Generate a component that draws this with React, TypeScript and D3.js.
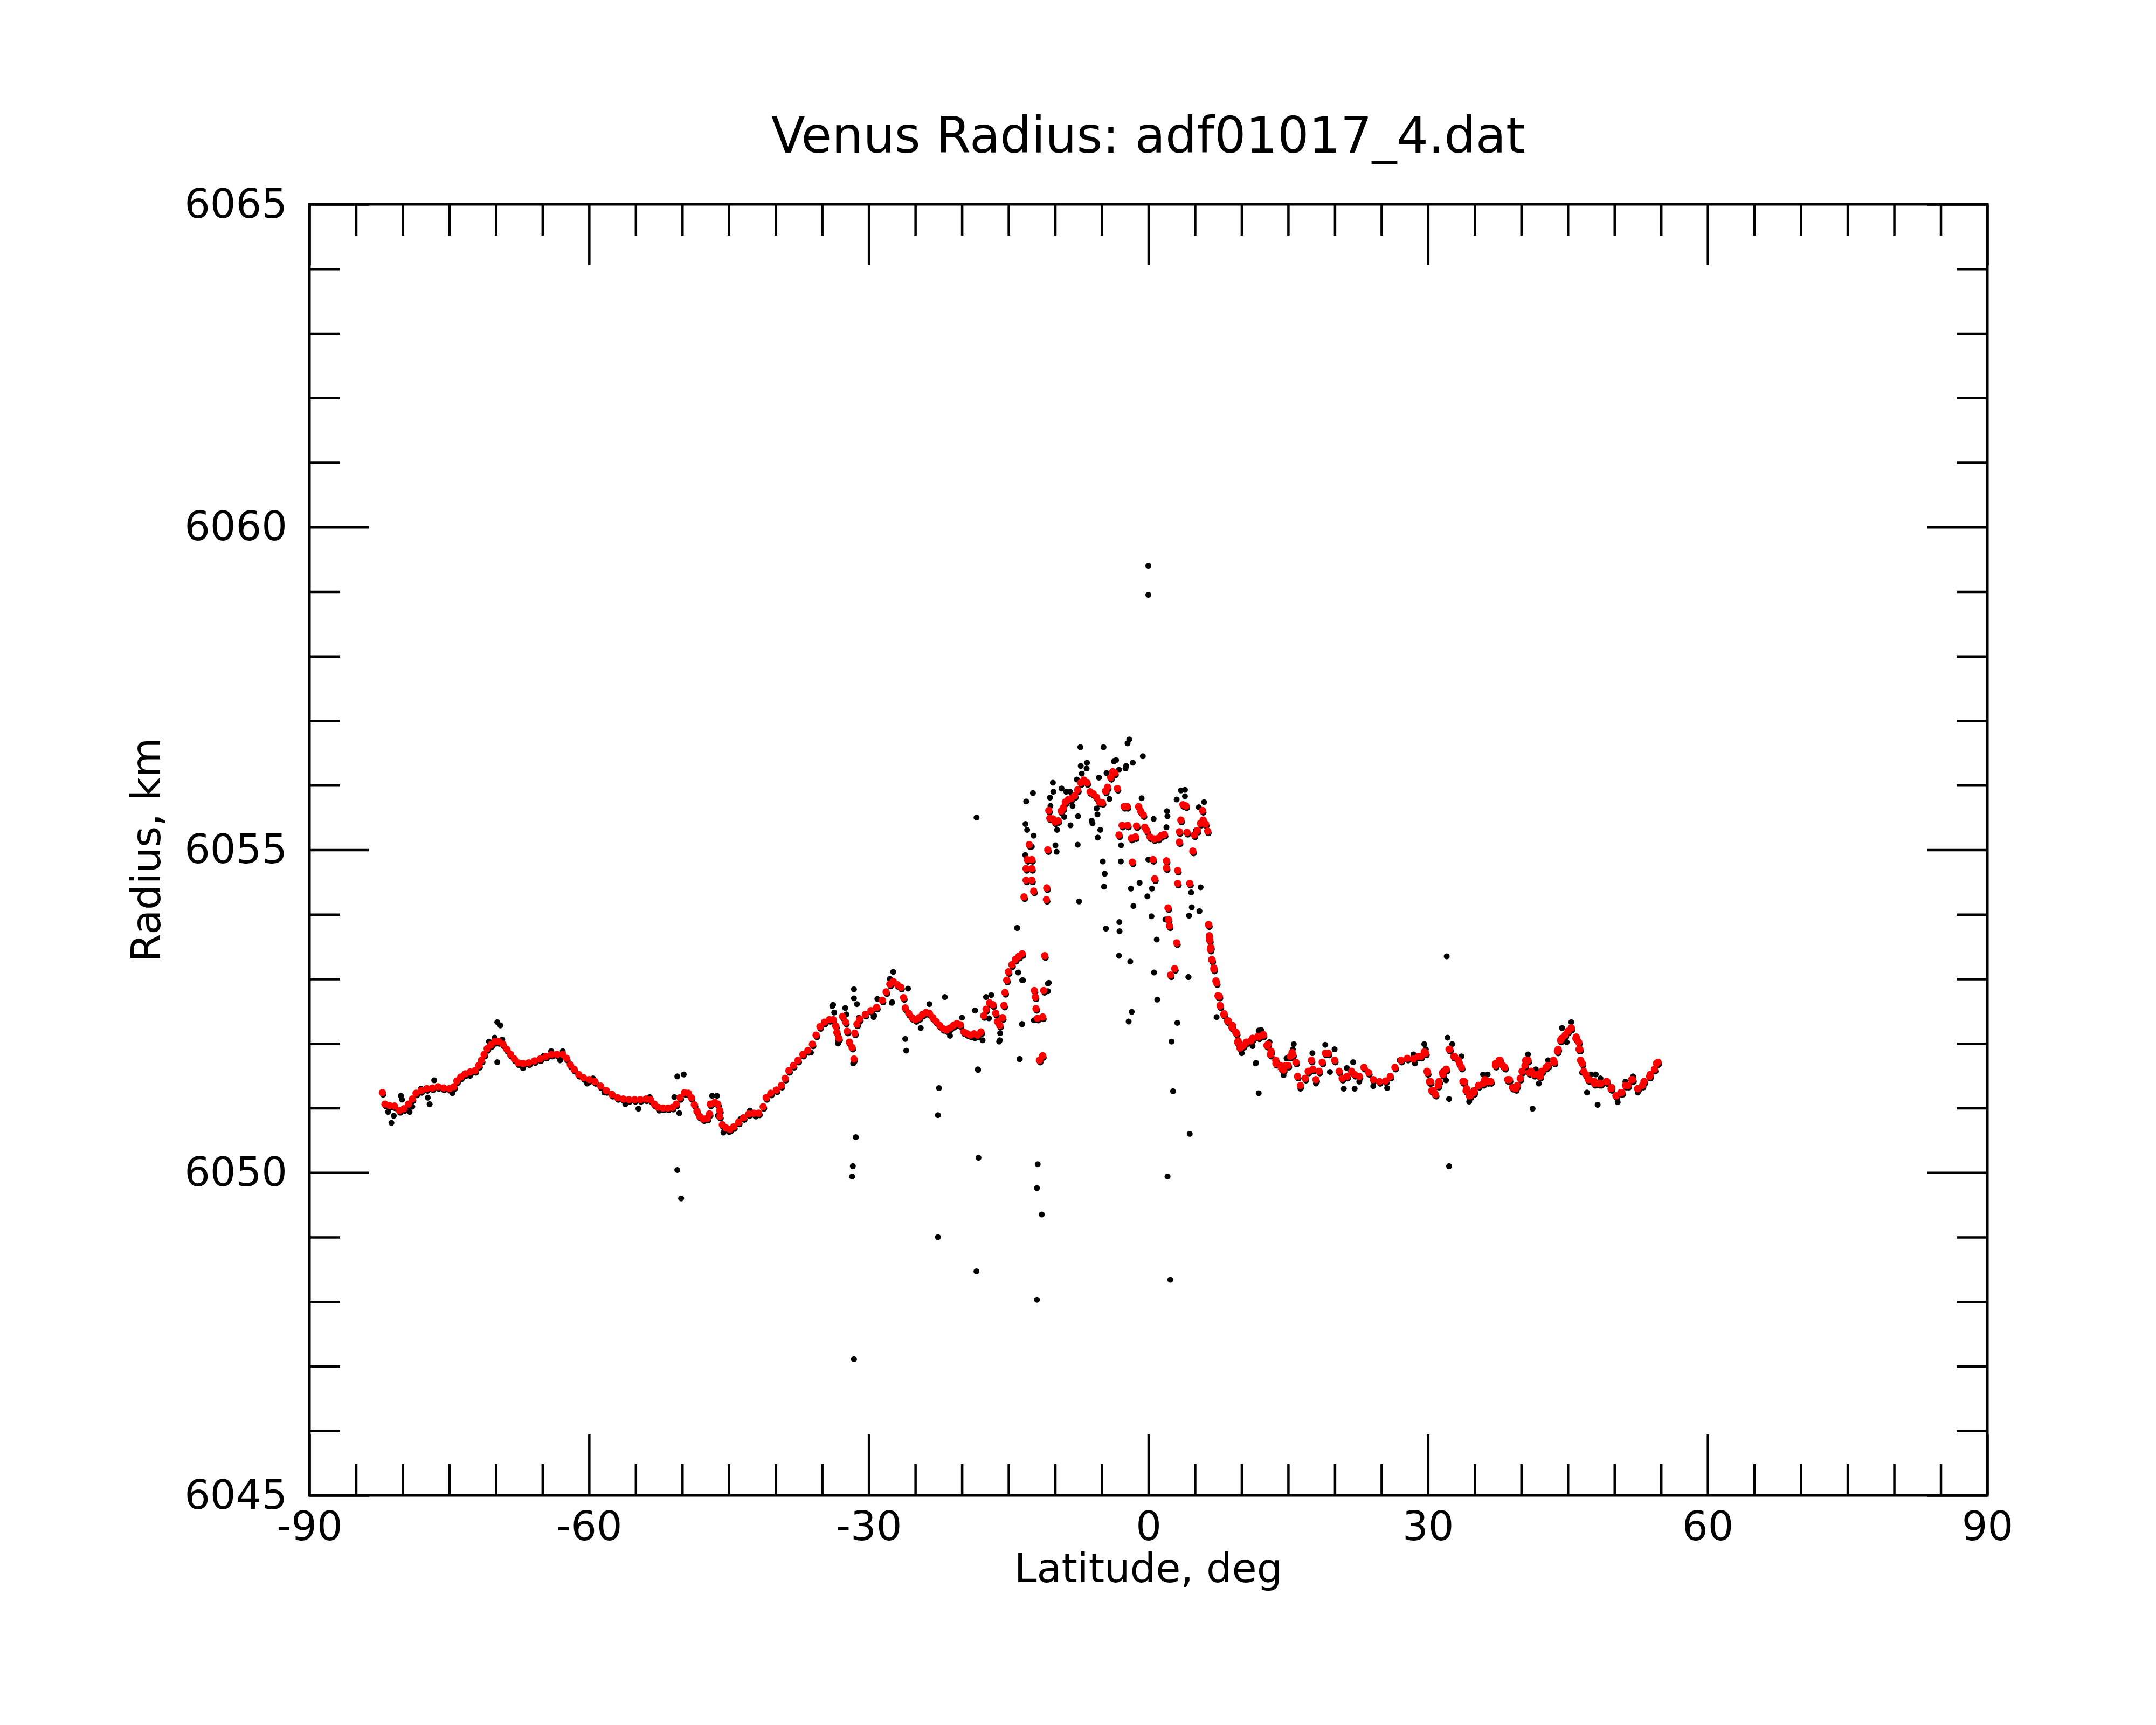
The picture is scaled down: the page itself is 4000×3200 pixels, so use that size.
import React, { useRef, useEffect } from "react";
import * as d3 from "d3";

type Pt = [number, number]; // [latitude deg, radius km]

const title = "Venus Radius: adf01017_4.dat";
const xLabel = "Latitude, deg";
const yLabel = "Radius, km";

const xMajor = [-90, -60, -30, 0, 30, 60, 90];
const yMajor = [6045, 6050, 6055, 6060, 6065];

// filtered (red) radius profile
const fitSouth: Pt[] = [
  [-82.17, 6051.24], [-81.89, 6051.06], [-81.4, 6051.04], [-80.87, 6051.03], [-80.34, 6050.96],
  [-79.86, 6050.99], [-79.37, 6051.06], [-78.96, 6051.14], [-78.56, 6051.23], [-78.03, 6051.27],
  [-77.42, 6051.3], [-76.81, 6051.31], [-76.2, 6051.33], [-75.6, 6051.31], [-74.99, 6051.3],
  [-74.5, 6051.33], [-74.18, 6051.42], [-73.77, 6051.48], [-73.28, 6051.53], [-72.76, 6051.56],
  [-72.23, 6051.58], [-71.82, 6051.66], [-71.54, 6051.74], [-71.26, 6051.83], [-70.93, 6051.92],
  [-70.53, 6051.98], [-70.12, 6052.03], [-69.71, 6052.03], [-69.23, 6051.99], [-68.82, 6051.91],
  [-68.42, 6051.83], [-68.01, 6051.76], [-67.61, 6051.7], [-67.08, 6051.69], [-66.47, 6051.7],
  [-65.86, 6051.73], [-65.25, 6051.76], [-64.64, 6051.8], [-64.03, 6051.83], [-63.43, 6051.83],
  [-62.82, 6051.83], [-62.41, 6051.77], [-62.01, 6051.67], [-61.6, 6051.6], [-61.11, 6051.52],
  [-60.59, 6051.47], [-59.98, 6051.44], [-59.37, 6051.41], [-58.76, 6051.34], [-58.15, 6051.27],
  [-57.54, 6051.21], [-56.94, 6051.16], [-56.33, 6051.14], [-55.72, 6051.13], [-55.11, 6051.13],
  [-54.5, 6051.13], [-53.89, 6051.14], [-53.41, 6051.13], [-53.0, 6051.06], [-52.59, 6051.01],
  [-52.07, 6051.0], [-51.54, 6051.0], [-51.05, 6051.01], [-50.65, 6051.06], [-50.24, 6051.16],
  [-49.76, 6051.24], [-49.35, 6051.23], [-49.02, 6051.16], [-48.7, 6051.05], [-48.42, 6050.95],
  [-48.13, 6050.87], [-47.73, 6050.83], [-47.32, 6050.84], [-47.08, 6050.91], [-47.0, 6051.06],
  [-46.51, 6051.09], [-46.19, 6051.06], [-45.98, 6050.96], [-45.98, 6050.87], [-45.7, 6050.74],
  [-45.29, 6050.69], [-44.89, 6050.67], [-44.48, 6050.71], [-43.96, 6050.78], [-43.43, 6050.85],
  [-42.86, 6050.91], [-42.33, 6050.92], [-41.8, 6050.92], [-41.32, 6051.02], [-41.0, 6051.16],
  [-40.51, 6051.23], [-39.9, 6051.28], [-39.37, 6051.35], [-38.96, 6051.46], [-38.56, 6051.58],
  [-38.07, 6051.66], [-37.58, 6051.74], [-37.06, 6051.83], [-36.53, 6051.89], [-36.04, 6051.99],
  [-35.64, 6052.13], [-35.23, 6052.26], [-34.75, 6052.33], [-34.22, 6052.37],
];

const fitMid: Pt[] = [
  [-33.81, 6052.37], [-33.53, 6052.27], [-33.41, 6052.17], [-33.2, 6052.08], [-32.8, 6052.42],
  [-32.47, 6052.33], [-32.31, 6052.19], [-32.07, 6052.02], [-31.78, 6051.94], [-31.58, 6051.76],
  [-31.5, 6052.16], [-31.26, 6052.3], [-30.97, 6052.38], [-30.36, 6052.45], [-29.76, 6052.51],
  [-29.15, 6052.56], [-28.54, 6052.67], [-28.13, 6052.8], [-27.73, 6052.92], [-27.37, 6052.96],
  [-26.92, 6052.91], [-26.55, 6052.87], [-26.26, 6052.71], [-26.08, 6052.55], [-25.71, 6052.47],
  [-25.34, 6052.4], [-24.97, 6052.37], [-24.6, 6052.4], [-24.23, 6052.45], [-23.86, 6052.48],
  [-23.49, 6052.47], [-23.12, 6052.4], [-22.76, 6052.34], [-22.39, 6052.28], [-22.02, 6052.23],
  [-21.65, 6052.21], [-21.28, 6052.24], [-20.91, 6052.28], [-20.54, 6052.31], [-20.17, 6052.29],
  [-19.8, 6052.18], [-19.43, 6052.15], [-19.07, 6052.13], [-18.7, 6052.15], [-18.33, 6052.13],
  [-17.96, 6052.18], [-17.66, 6052.43], [-17.41, 6052.53], [-17.04, 6052.63], [-16.67, 6052.6],
  [-16.38, 6052.47], [-16.19, 6052.34], [-15.93, 6052.28], [-15.64, 6052.4], [-15.49, 6052.59],
  [-15.38, 6052.79], [-15.19, 6052.98], [-15.01, 6053.11], [-14.64, 6053.22], [-14.27, 6053.3],
  [-13.9, 6053.35], [-13.53, 6053.39],
];

const fitCentral: Pt[] = [
  [-13.34, 6054.27], [-13.12, 6054.53], [-13.12, 6054.71], [-13.0, 6054.85], [-12.78, 6055.08],
  [-12.5, 6054.85], [-12.5, 6054.71], [-12.5, 6054.53], [-12.3, 6054.36], [-12.23, 6052.82],
  [-12.12, 6052.72], [-12.05, 6052.54], [-11.9, 6052.39], [-11.68, 6051.74], [-11.34, 6051.81],
  [-11.34, 6052.41], [-11.23, 6052.82], [-11.12, 6053.36], [-10.94, 6054.23], [-10.9, 6054.41],
  [-10.79, 6055.0], [-10.68, 6055.61], [-10.57, 6055.49], [-10.24, 6055.48], [-10.02, 6055.43],
  [-9.68, 6055.45], [-9.35, 6055.6], [-9.13, 6055.65], [-8.91, 6055.74], [-8.58, 6055.78],
  [-8.25, 6055.8], [-7.91, 6055.84], [-7.58, 6055.93], [-7.25, 6056.04], [-6.92, 6056.08],
  [-6.58, 6056.04], [-6.25, 6055.9], [-5.92, 6055.87], [-5.59, 6055.82], [-5.26, 6055.74],
  [-4.93, 6055.73], [-4.59, 6055.91], [-4.37, 6055.97], [-4.04, 6056.12], [-3.82, 6056.21],
  [-3.6, 6056.19], [-3.33, 6055.95], [-3.15, 6055.23], [-2.82, 6055.38], [-2.6, 6055.67],
  [-2.27, 6055.67], [-2.22, 6055.38], [-1.83, 6055.18], [-1.72, 6054.81], [-1.38, 6055.2],
  [-1.27, 6055.37], [-1.05, 6055.67], [-0.83, 6055.6], [-0.54, 6055.54], [-0.39, 6055.35],
  [-0.17, 6055.3], [0.17, 6055.2], [0.5, 6054.85], [0.61, 6055.17], [0.68, 6054.55],
  [1.05, 6055.18], [1.38, 6055.22], [1.72, 6055.24], [1.94, 6054.83], [1.94, 6054.72],
  [2.11, 6054.1], [2.16, 6053.92], [2.27, 6053.82], [2.38, 6053.06], [2.82, 6053.16],
  [3.04, 6053.56], [3.15, 6054.48], [3.15, 6054.68], [3.33, 6055.12], [3.33, 6055.28],
  [3.49, 6055.46], [3.71, 6055.7], [4.04, 6055.68], [4.15, 6055.27], [4.44, 6054.48],
  [4.77, 6054.98], [4.93, 6055.23], [5.26, 6055.3], [5.59, 6055.41], [5.81, 6055.61],
  [5.88, 6055.46], [6.14, 6055.4], [6.36, 6055.29],
  [6.45, 6053.84], [6.47, 6053.84], [6.54, 6053.67], [6.55, 6053.65], [6.58, 6053.6],
  [6.65, 6053.46], [6.7, 6053.49], [6.8, 6053.3], [6.84, 6053.29], [7.03, 6053.17],
  [7.03, 6053.15], [7.25, 6052.97], [7.32, 6052.94], [7.47, 6052.74], [7.61, 6052.73],
  [7.69, 6052.59], [7.71, 6052.58], [8.09, 6052.45], [8.13, 6052.46], [8.48, 6052.35],
  [8.58, 6052.35], [8.96, 6052.25], [9.02, 6052.28], [9.35, 6052.18], [9.46, 6052.16],
  [9.57, 6052.02], [9.63, 6052.04], [9.83, 6051.93], [9.9, 6051.94], [10.21, 6051.97],
];

const fitNorth: Pt[] = [
  [10.51, 6052.02], [10.98, 6052.04], [11.18, 6052.08], [11.76, 6052.11], [11.84, 6052.1],
  [12.33, 6052.14], [12.34, 6052.13], [12.72, 6051.97], [12.84, 6051.99], [13.1, 6051.83],
  [13.17, 6051.88], [13.67, 6051.74], [13.68, 6051.69], [14.17, 6051.66], [14.26, 6051.62],
  [14.5, 6051.59], [14.74, 6051.66], [15.0, 6051.66], [15.22, 6051.8], [15.42, 6051.86],
  [15.5, 6051.83], [15.83, 6051.71], [16.0, 6051.49], [16.32, 6051.35], [16.82, 6051.46],
  [17.15, 6051.57], [17.49, 6051.74], [17.65, 6051.6], [17.98, 6051.44], [18.32, 6051.57],
  [18.65, 6051.71], [18.98, 6051.85], [19.31, 6051.85], [19.98, 6051.74], [20.47, 6051.57],
  [20.8, 6051.46], [21.3, 6051.49], [21.8, 6051.57], [22.13, 6051.52], [22.63, 6051.49],
  [23.13, 6051.63], [23.63, 6051.55], [24.13, 6051.44], [24.79, 6051.41], [25.45, 6051.42],
  [25.95, 6051.49], [26.45, 6051.63], [27.11, 6051.74], [27.78, 6051.77], [28.44, 6051.76],
  [28.94, 6051.8], [29.25, 6051.8], [29.6, 6051.87], [29.76, 6051.85], [29.9, 6051.57],
  [29.94, 6051.55], [30.15, 6051.41], [30.27, 6051.41], [30.4, 6051.27], [30.6, 6051.27],
  [30.8, 6051.21], [31.1, 6051.35], [31.18, 6051.41], [31.57, 6051.55], [31.6, 6051.52],
  [31.93, 6051.6], [31.96, 6051.6], [32.26, 6051.91], [32.34, 6051.91], [32.76, 6051.8],
  [32.86, 6051.8], [33.26, 6051.74], [33.38, 6051.69], [33.59, 6051.63], [33.75, 6051.41],
  [33.89, 6051.41], [34.09, 6051.27], [34.15, 6051.3], [34.42, 6051.19], [34.54, 6051.19],
  [34.92, 6051.24], [34.93, 6051.27], [35.42, 6051.35], [35.44, 6051.35], [35.91, 6051.38],
  [36.09, 6051.44], [36.41, 6051.41], [36.73, 6051.41], [37.24, 6051.66], [37.25, 6051.69],
  [37.64, 6051.74], [37.74, 6051.74], [38.02, 6051.66], [38.24, 6051.63], [38.54, 6051.44],
  [38.73, 6051.44], [39.06, 6051.32], [39.4, 6051.3], [39.57, 6051.35], [39.9, 6051.46],
  [40.09, 6051.57], [40.4, 6051.66], [40.48, 6051.74], [40.73, 6051.74], [40.86, 6051.55],
  [41.06, 6051.57], [41.38, 6051.52], [41.72, 6051.52], [42.03, 6051.49], [42.22, 6051.57],
  [42.67, 6051.63], [42.88, 6051.66], [43.45, 6051.74], [43.55, 6051.71], [43.88, 6051.88],
  [43.96, 6051.91], [44.21, 6052.05], [44.35, 6052.08], [44.71, 6052.13], [45.0, 6052.19],
  [45.37, 6052.24], [45.38, 6052.24], [45.87, 6052.08], [45.9, 6052.1], [46.16, 6052.02],
  [46.2, 6051.91], [46.29, 6051.91], [46.37, 6051.74], [46.55, 6051.69], [46.7, 6051.57],
  [46.93, 6051.52], [47.2, 6051.44], [47.32, 6051.44], [47.84, 6051.41], [47.87, 6051.38],
  [48.35, 6051.38], [48.53, 6051.38], [49.13, 6051.41], [49.19, 6051.41], [49.64, 6051.3],
  [49.69, 6051.32], [50.16, 6051.19], [50.19, 6051.19], [50.68, 6051.24], [50.8, 6051.24],
  [51.18, 6051.35], [51.45, 6051.35], [51.85, 6051.44], [51.97, 6051.44], [52.48, 6051.3],
  [52.51, 6051.3], [53.0, 6051.35], [53.18, 6051.41], [53.77, 6051.49], [53.84, 6051.52],
  [54.29, 6051.6], [54.5, 6051.69], [54.68, 6051.71],
];

// raw (black) measurements that show around or away from the red profile
const rawSouth: Pt[] = [
  [-81.56, 6050.94], [-81.2, 6050.77], [-80.95, 6050.88], [-80.18, 6051.19], [-80.06, 6051.13],
  [-79.25, 6050.94], [-78.96, 6051.02], [-78.03, 6051.3], [-77.3, 6051.16], [-77.1, 6051.06],
  [-76.61, 6051.43], [-75.6, 6051.28], [-74.66, 6051.23], [-73.37, 6051.53], [-72.76, 6051.5],
  [-72.35, 6051.56], [-70.73, 6052.03], [-70.12, 6052.09], [-69.84, 6052.33], [-69.51, 6052.28],
  [-69.84, 6051.71], [-69.31, 6052.06], [-67.08, 6051.62], [-64.85, 6051.81], [-64.04, 6051.88],
  [-62.82, 6051.88], [-63.1, 6051.74], [-64.07, 6051.88], [-60.59, 6051.48], [-60.2, 6051.38],
  [-59.57, 6051.46], [-58.36, 6051.24], [-56.1, 6051.06], [-54.7, 6050.99], [-53.49, 6051.17],
  [-52.47, 6050.96], [-50.85, 6051.17], [-50.53, 6051.49], [-49.84, 6051.52], [-50.32, 6050.92],
  [-50.53, 6050.04], [-50.12, 6049.6], [-47.4, 6050.83], [-46.79, 6051.19], [-46.27, 6051.19],
  [-46.19, 6050.88], [-45.58, 6050.62], [-44.97, 6050.63], [-43.75, 6050.83], [-42.74, 6050.96],
  [-42.13, 6050.87], [-42.1, 6050.87], [-40.51, 6051.21], [-36.45, 6051.87], [-36.2, 6051.86],
];

const rawMid: Pt[] = [
  [-33.9, 6052.58], [-33.7, 6052.48], [-33.82, 6052.6], [-33.29, 6052.0], [-33.27, 6052.05],
  [-32.51, 6052.55], [-32.39, 6052.45], [-31.66, 6051.69], [-31.58, 6052.84], [-31.58, 6052.7],
  [-31.26, 6052.61], [-31.38, 6050.55], [-31.7, 6050.1], [-31.78, 6049.94], [-31.58, 6047.11],
  [-30.97, 6052.33], [-31.06, 6052.4], [-29.47, 6052.41], [-29.4, 6052.43], [-29.07, 6052.69],
  [-27.73, 6053.0], [-27.52, 6052.63], [-27.37, 6053.11], [-27.48, 6052.64], [-25.78, 6052.85],
  [-26.08, 6052.07], [-25.97, 6051.89], [-24.42, 6052.24], [-23.49, 6052.61], [-21.83, 6052.72],
  [-22.57, 6050.89], [-22.46, 6051.31], [-22.57, 6049.0], [-21.28, 6052.12], [-19.99, 6052.4],
  [-18.59, 6052.51], [-18.59, 6052.08], [-17.78, 6052.05], [-18.26, 6051.59], [-18.22, 6050.23],
  [-18.44, 6048.47], [-17.41, 6052.72], [-16.85, 6052.75], [-15.93, 6052.05], [-14.09, 6053.79],
  [-13.79, 6051.76], [-13.53, 6052.3], [-13.53, 6052.98], [-11.87, 6050.13], [-11.95, 6049.76],
  [-11.43, 6049.35], [-11.95, 6048.03], [-10.77, 6052.93],
];

const rawCentral: Pt[] = [
  [-18.43, 6055.5], [-14.04, 6053.79], [-13.1, 6055.75], [-12.38, 6055.88], [-13.18, 6055.4],
  [-13.0, 6055.31], [-12.3, 6055.22], [-13.2, 6054.92], [-12.5, 6055.05], [-18.6, 6052.51],
  [-17.1, 6052.39], [-16.0, 6052.03], [-15.9, 6052.16], [-13.96, 6053.1], [-13.45, 6052.98],
  [-13.56, 6052.3], [-13.82, 6051.76], [-18.29, 6051.6], [-10.68, 6052.94], [-10.77, 6052.81],
  [-12.27, 6052.36], [-10.24, 6056.04], [-10.19, 6055.9], [-10.55, 6055.81], [-10.5, 6055.68],
  [-9.97, 6055.07], [-9.84, 6054.97], [-9.79, 6055.31], [-9.31, 6055.95], [-8.8, 6055.9],
  [-8.4, 6055.9], [-9.02, 6055.51], [-8.35, 6055.38], [-8.13, 6055.68], [-7.54, 6055.52],
  [-7.58, 6055.08], [-7.43, 6054.2], [-7.29, 6056.59], [-7.25, 6056.3], [-6.58, 6056.35],
  [-6.62, 6056.26], [-7.14, 6056.18], [-7.67, 6056.09], [-6.08, 6055.45], [-5.99, 6055.41],
  [-5.55, 6055.64], [-5.46, 6055.55], [-5.43, 6055.19], [-5.15, 6055.31], [-5.3, 6056.12],
  [-4.81, 6056.59], [-4.48, 6056.19], [-4.88, 6054.82], [-4.68, 6054.63], [-4.75, 6054.43],
  [-4.55, 6053.78], [-4.17, 6055.79], [-3.69, 6056.37], [-3.46, 6056.39], [-3.15, 6056.24],
  [-2.38, 6056.3], [-2.45, 6056.26], [-2.23, 6056.65], [-2.05, 6056.71], [-1.67, 6056.35],
  [-0.59, 6056.45], [-2.93, 6055.07], [-2.95, 6054.82], [-3.11, 6053.88], [-3.09, 6053.74],
  [-3.15, 6053.36], [-1.94, 6053.27], [-1.87, 6054.4], [-1.6, 6054.13], [-0.94, 6054.49],
  [-0.1, 6054.28], [0.34, 6053.97], [0.39, 6054.4], [0.0, 6054.85], [0.57, 6055.48],
  [0.9, 6053.61], [0.61, 6053.1], [0.96, 6052.68], [-1.78, 6052.49], [-2.11, 6052.34],
  [3.11, 6052.32], [2.49, 6052.03], [2.65, 6051.26], [2.06, 6049.94], [2.36, 6048.34],
  [4.3, 6053.03], [4.37, 6053.98], [4.66, 6054.11], [5.48, 6054.05], [5.61, 6054.42],
  [4.59, 6054.34], [1.83, 6053.92], [2.0, 6055.6], [2.05, 6055.52], [1.94, 6055.35],
  [-0.72, 6055.8], [3.04, 6055.78], [3.93, 6055.93], [3.5, 6055.92], [3.93, 6055.83],
  [5.41, 6055.66], [5.98, 6055.74], [5.1, 6055.3], [0.0, 6059.4], [0.0, 6058.95],
];

const rawNorth: Pt[] = [
  [4.31, 6053.03], [4.44, 6050.6], [7.32, 6052.41], [10.02, 6051.85], [11.18, 6051.96],
  [11.51, 6051.69], [11.84, 6051.23], [11.84, 6052.2], [12.1, 6052.21], [11.56, 6051.7],
  [13.0, 6052.02], [13.17, 6051.85], [14.5, 6051.51], [14.83, 6051.77], [15.6, 6051.99],
  [15.5, 6051.91], [16.32, 6051.3], [17.6, 6051.85], [17.98, 6051.38], [18.98, 6051.98],
  [19.48, 6051.56], [19.98, 6051.91], [20.97, 6051.3], [21.3, 6051.62], [21.97, 6051.71],
  [22.13, 6051.3], [22.63, 6051.41], [24.13, 6051.34], [25.62, 6051.31], [26.95, 6051.74],
  [28.61, 6051.69], [28.44, 6051.83], [29.6, 6051.99], [29.77, 6051.91], [30.77, 6051.19],
  [31.6, 6051.57], [31.93, 6051.43], [32.1, 6052.09], [32.26, 6051.14], [32.26, 6050.1],
  [32.01, 6053.35], [32.6, 6051.99], [33.59, 6051.8], [34.42, 6051.1], [35.91, 6051.52],
  [36.4, 6051.52], [37.57, 6051.74], [39.4, 6051.28], [40.73, 6051.83], [41.22, 6050.99],
  [41.56, 6051.6], [41.89, 6051.38], [42.88, 6051.74], [44.38, 6052.24], [44.88, 6052.02],
  [45.37, 6052.33], [46.54, 6051.55], [47.06, 6051.24], [47.5, 6051.52], [48.0, 6051.52],
  [48.2, 6051.05], [48.5, 6051.46], [50.35, 6051.09], [51.18, 6051.41], [52.0, 6051.49],
  [52.51, 6051.24],
];

const W = 4000;
const H = 3200;
const plot = { left: 574, right: 3687, top: 379, bottom: 2774 };
const font = "DejaVu Sans";

const VenusRadiusChart: React.FC = () => {
  const ref = useRef<SVGSVGElement | null>(null);

  useEffect(() => {
    document.body.style.margin = "0";
    if (!ref.current) return;
    const svg = d3.select(ref.current);
    svg.selectAll("*").remove();

    const x = d3.scaleLinear().domain([-90, 90]).range([plot.left, plot.right]);
    const y = d3.scaleLinear().domain([6045, 6065]).range([plot.bottom, plot.top]);

    const xMinor = d3.range(-85, 90, 5).filter((v) => !xMajor.includes(v));
    const yMinor = d3.range(6046, 6065, 1).filter((v) => !yMajor.includes(v));
    const plain = (d: d3.NumberValue) => `${d}`;
    const none = () => "";

    const styleAxis = (g: d3.Selection<SVGGElement, unknown, null, undefined>) => {
      g.select(".domain").remove();
      g.selectAll("line").attr("stroke", "#000").attr("stroke-width", 4.5);
      g.selectAll("text")
        .attr("font-family", font)
        .attr("font-size", 75)
        .attr("fill", "#000");
    };

    // bottom
    svg.append("g")
      .attr("transform", `translate(0,${plot.bottom})`)
      .call(d3.axisBottom(x).tickValues(xMajor).tickSizeInner(-113).tickSizeOuter(0).tickPadding(30).tickFormat(plain))
      .call(styleAxis);
    svg.append("g")
      .attr("transform", `translate(0,${plot.bottom})`)
      .call(d3.axisBottom(x).tickValues(xMinor).tickSizeInner(-58).tickSizeOuter(0).tickFormat(none))
      .call(styleAxis);
    // top
    svg.append("g")
      .attr("transform", `translate(0,${plot.top})`)
      .call(d3.axisTop(x).tickValues(xMajor).tickSizeInner(-113).tickSizeOuter(0).tickFormat(none))
      .call(styleAxis);
    svg.append("g")
      .attr("transform", `translate(0,${plot.top})`)
      .call(d3.axisTop(x).tickValues(xMinor).tickSizeInner(-58).tickSizeOuter(0).tickFormat(none))
      .call(styleAxis);
    // left
    svg.append("g")
      .attr("transform", `translate(${plot.left},0)`)
      .call(d3.axisLeft(y).tickValues(yMajor).tickSizeInner(-111).tickSizeOuter(0).tickPadding(41).tickFormat(plain))
      .call(styleAxis);
    svg.append("g")
      .attr("transform", `translate(${plot.left},0)`)
      .call(d3.axisLeft(y).tickValues(yMinor).tickSizeInner(-57).tickSizeOuter(0).tickFormat(none))
      .call(styleAxis);
    // right
    svg.append("g")
      .attr("transform", `translate(${plot.right},0)`)
      .call(d3.axisRight(y).tickValues(yMajor).tickSizeInner(-111).tickSizeOuter(0).tickFormat(none))
      .call(styleAxis);
    svg.append("g")
      .attr("transform", `translate(${plot.right},0)`)
      .call(d3.axisRight(y).tickValues(yMinor).tickSizeInner(-57).tickSizeOuter(0).tickFormat(none))
      .call(styleAxis);

    // frame
    svg.append("rect")
      .attr("x", plot.left)
      .attr("y", plot.top)
      .attr("width", plot.right - plot.left)
      .attr("height", plot.bottom - plot.top)
      .attr("fill", "none")
      .attr("stroke", "#000")
      .attr("stroke-width", 5);

    const fit = [...fitSouth, ...fitMid, ...fitCentral, ...fitNorth];
    const raw = [...rawSouth, ...rawMid, ...rawCentral, ...rawNorth];

    // raw measurements
    svg.append("g")
      .selectAll("circle")
      .data(raw)
      .join("circle")
      .attr("cx", (d) => x(d[0]))
      .attr("cy", (d) => y(d[1]))
      .attr("r", 5.5)
      .attr("fill", "#000");

    // dark under-edge of the red markers, as the printed symbols show
    svg.append("g")
      .attr("transform", "translate(1.5,3.5)")
      .selectAll("circle")
      .data(fit)
      .join("circle")
      .attr("cx", (d) => x(d[0]))
      .attr("cy", (d) => y(d[1]))
      .attr("r", 6)
      .attr("fill", "#000");

    // filtered profile
    svg.append("g")
      .selectAll("circle")
      .data(fit)
      .join("circle")
      .attr("cx", (d) => x(d[0]))
      .attr("cy", (d) => y(d[1]))
      .attr("r", 6.8)
      .attr("fill", "#ff0000");

    // titles
    svg.append("text")
      .attr("x", (plot.left + plot.right) / 2)
      .attr("y", 283)
      .attr("text-anchor", "middle")
      .attr("font-family", font)
      .attr("font-size", 92)
      .text(title);
    svg.append("text")
      .attr("x", (plot.left + plot.right) / 2)
      .attr("y", 2935)
      .attr("text-anchor", "middle")
      .attr("font-family", font)
      .attr("font-size", 75)
      .text(xLabel);
    svg.append("text")
      .attr("transform", `translate(297,${(plot.top + plot.bottom) / 2}) rotate(-90)`)
      .attr("text-anchor", "middle")
      .attr("font-family", font)
      .attr("font-size", 75)
      .text(yLabel);
  }, []);

  return <svg ref={ref} width={W} height={H} style={{ display: "block", background: "#fff" }} />;
};

export default function App() {
  return <VenusRadiusChart />;
}
